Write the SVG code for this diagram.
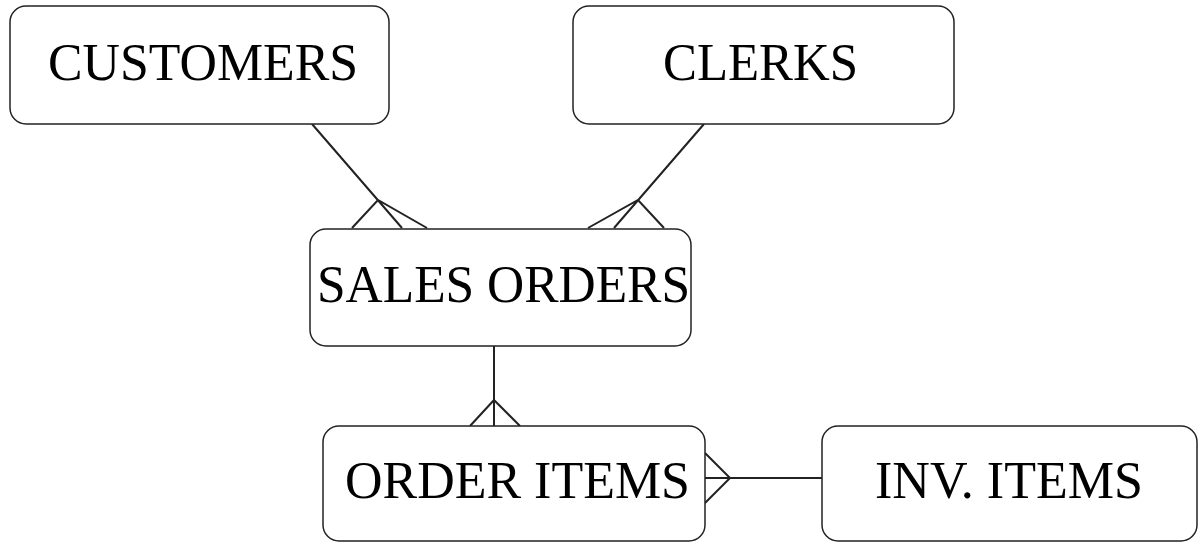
<svg xmlns="http://www.w3.org/2000/svg" width="1198" height="543" viewBox="0 0 1198 543">
<style>
.box{fill:#fff;stroke:#222;stroke-width:1.5}
.lbl{font-family:"Liberation Serif","Times New Roman",serif;font-size:52px;fill:#000;text-anchor:middle}
.con{fill:none;stroke:#222;stroke-width:2}
</style>
<rect width="1198" height="543" fill="#fff"/>
<g id="connectors">
<path class="con" d="M312,124 L402,228 M352,228 L378,200 L427,228"/>
<path class="con" d="M704,124 L614,228 M588,228 L638,200 L664,228"/>
<path class="con" d="M494,346 L494,426 M470,426 L494,400 L520,426"/>
<path class="con" d="M705,478 L822,478 M705,453 L730,478 L705,503"/>
</g>
<g id="customers"><rect class="box" x="10" y="6" width="379" height="118" rx="16"/><text class="lbl" x="203" y="80" textLength="310" lengthAdjust="spacingAndGlyphs">CUSTOMERS</text></g>
<g id="clerks"><rect class="box" x="573" y="6" width="381" height="118" rx="16"/><text class="lbl" x="760.5" y="80" textLength="195" lengthAdjust="spacingAndGlyphs">CLERKS</text></g>
<g id="sales-orders"><rect class="box" x="310" y="229" width="381" height="117" rx="16"/><text class="lbl" x="503.5" y="302" textLength="373" lengthAdjust="spacingAndGlyphs">SALES ORDERS</text></g>
<g id="order-items"><rect class="box" x="323" y="426" width="382" height="115" rx="16"/><text class="lbl" x="517.5" y="498" textLength="345" lengthAdjust="spacingAndGlyphs">ORDER ITEMS</text></g>
<g id="inv-items"><rect class="box" x="822" y="426" width="375" height="115" rx="16"/><text class="lbl" x="1009" y="498" textLength="268" lengthAdjust="spacingAndGlyphs">INV. ITEMS</text></g>
</svg>
